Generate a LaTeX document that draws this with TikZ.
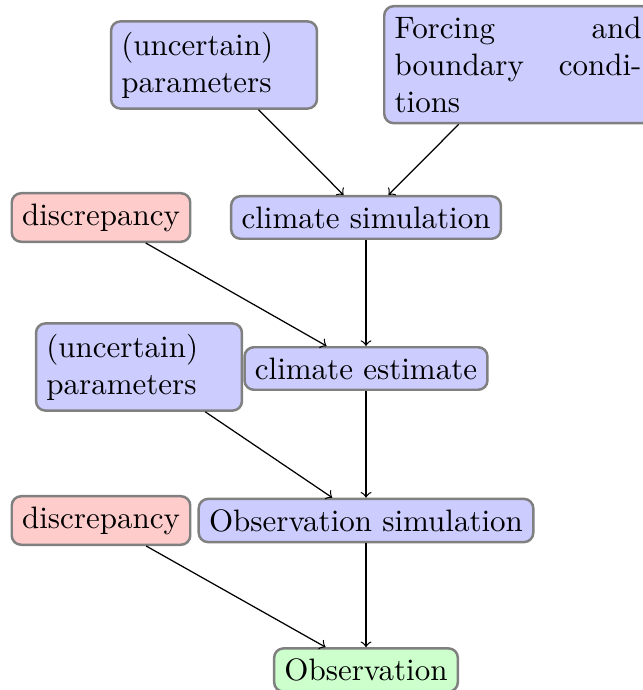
\documentclass[tikz,border=0pt]{standalone}

\tikzset{
  box/.style={draw=gray, thick, rounded corners=3pt},
  model/.style={box, fill=blue!20},
  error/.style={box, fill=red!20},
  data/.style={box, fill=green!20},
}

\begin{document}
\begin{tikzpicture}[x={(0.3226pt,0)}, y={(0,-0.3226pt)}]
  \useasboundingbox (0,0) rectangle (642,690);
  % inputs
  \node[model, text width=2.1cm, align=justify] (par1) at (214,65)
    {(uncertain) parameters};
  \node[model, text width=2.8cm, align=justify, anchor=north west] (forcing)
    at (383,5) {Forcing and boundary conditions};
  % climate
  \node[error] (disc1) at (101,217.5) {discrepancy};
  \node[model] (climsim) at (366,217.5) {climate simulation};
  \node[model, text width=2.1cm, align=justify] (par2) at (139,367)
    {(uncertain) parameters};
  \node[model] (climest) at (366,368.5) {climate estimate};
  % observations
  \node[error] (disc2) at (101,520.5) {discrepancy};
  \node[model] (obssim) at (366,520.5) {Observation simulation};
  \node[data] (obs) at (366,670) {Observation};
  % arrows
  \foreach \a/\b in {par1/climsim, forcing/climsim, disc1/climest,
      climsim/climest, par2/obssim, climest/obssim, disc2/obs, obssim/obs} {
    \draw[->] (\a) -- (\b);
  }
\end{tikzpicture}
\end{document}
